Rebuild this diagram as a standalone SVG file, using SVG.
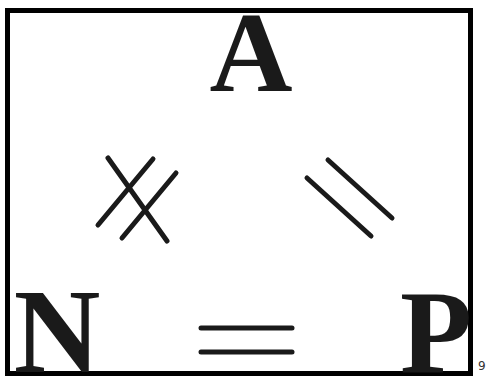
<svg xmlns="http://www.w3.org/2000/svg" width="486" height="376" viewBox="0 0 486 376">
<style>
.lbl{font-family:"Liberation Serif","Times New Roman",serif;font-weight:bold;fill:#1a1a1a;text-anchor:middle}
.ln{stroke:#1a1a1a;stroke-width:5;stroke-linecap:round;fill:none}
</style>
<rect x="0" y="0" width="486" height="376" fill="#fff"/>
<rect x="7.5" y="10.5" width="463" height="363" fill="none" stroke="#000" stroke-width="5"/>
<g id="node-A"><text class="lbl" x="251" y="91" font-size="115">A</text></g>
<g id="node-N"><text class="lbl" x="57" y="372" font-size="120">N</text></g>
<g id="node-P"><text class="lbl" x="436" y="373" font-size="118">P</text></g>
<g id="connectors">
<g id="A-N">
<line class="ln" x1="98" y1="225" x2="153" y2="159"/>
<line class="ln" x1="122" y1="238" x2="176" y2="173"/>
<line class="ln" x1="108" y1="158" x2="167" y2="241"/>
</g>
<g id="A-P">
<line class="ln" x1="307" y1="178" x2="371" y2="236"/>
<line class="ln" x1="328" y1="160" x2="392" y2="218"/>
</g>
<g id="N-P">
<line class="ln" x1="201" y1="328" x2="292" y2="328"/>
<line class="ln" x1="201" y1="352" x2="292" y2="352"/>
</g>
</g>
<text x="478" y="370" font-family="'DejaVu Sans',sans-serif" font-size="12" fill="#333">9</text>
</svg>
